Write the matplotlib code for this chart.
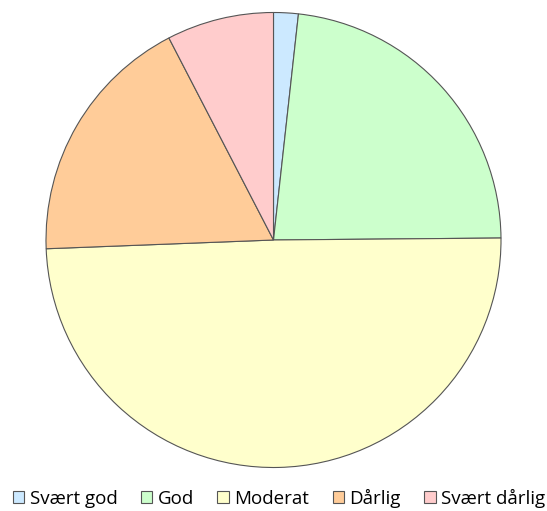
import matplotlib.pyplot as plt
from matplotlib.patches import Patch

labels = ['Svært god', 'God', 'Moderat', 'Dårlig', 'Svært dårlig']
shares = [1.75, 23.1, 49.5, 18.0, 7.6]
colors = ['#cce9ff', '#ccffcc', '#ffffcc', '#ffcc99', '#ffcccc']

plt.rcParams['font.family'] = ['Open Sans', 'DejaVu Sans']

fig = plt.figure(figsize=(5.47, 5.11), dpi=100)
# pie centre ~ (273.5, 240) px, radius ~227.5 px
ax = fig.add_axes([46 / 547, 43.5 / 511, 455 / 547, 455 / 511])
ax.pie(shares, colors=colors, startangle=90, counterclock=False,
       wedgeprops=dict(edgecolor='#555555', linewidth=0.8))
ax.set_xlim(-1, 1)
ax.set_ylim(-1, 1)
ax.axis('off')

handles = [Patch(facecolor=c, edgecolor='#555555', linewidth=0.8) for c in colors]
fig.legend(handles, labels, loc='center', bbox_to_anchor=(0.5 + 5.5 / 547, 1 - 498 / 511),
           ncol=5, frameon=False, fontsize=13.5, handlelength=0.6, handleheight=0.6,
           handletextpad=0.3, columnspacing=1.25, borderaxespad=0)

fig.savefig('out.png', dpi=100)
